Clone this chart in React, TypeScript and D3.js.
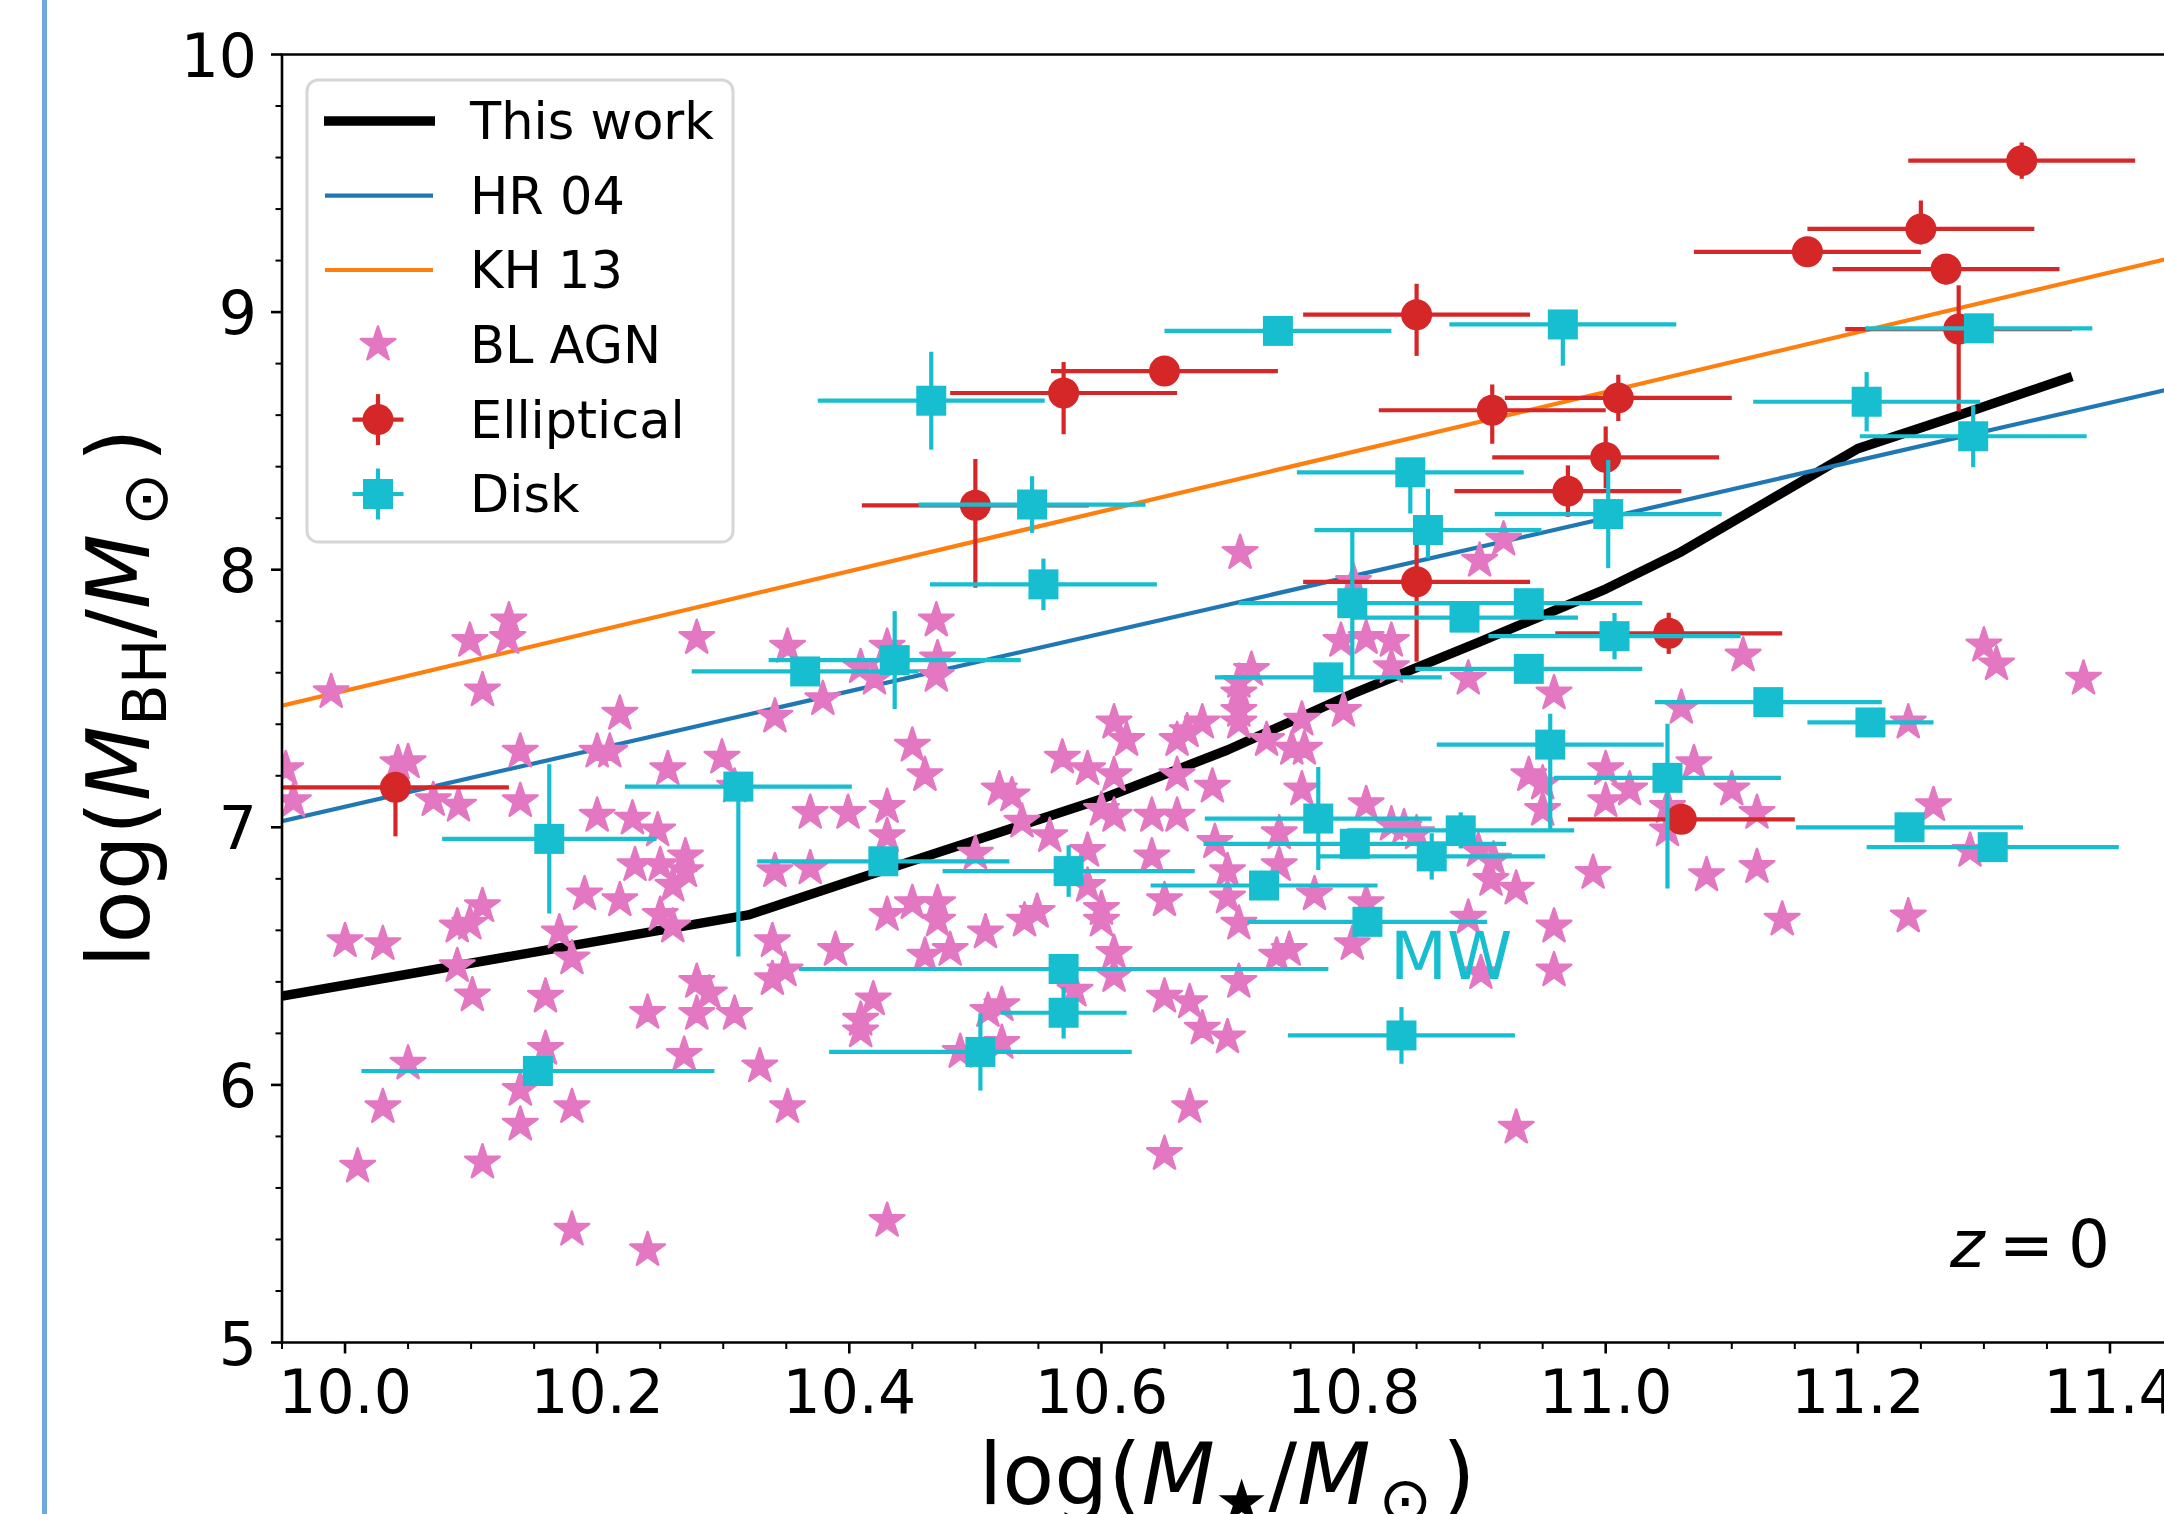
import React from 'react';
import * as d3 from 'd3';

// ---------------- data ----------------
const thisWorkX = [9.95, 10.32, 10.4, 10.5, 10.6, 10.7, 10.8, 10.9, 11.0, 11.06, 11.13, 11.2, 11.28, 11.37];
const thisWorkY = [6.345, 6.66, 6.79, 6.95, 7.11, 7.3, 7.52, 7.72, 7.925, 8.07, 8.27, 8.47, 8.6, 8.75];

const hr04X = [9.95, 11.45];
const hr04Y = [7.024, 8.704];
const kh13X = [9.95, 11.45];
const kh13Y = [7.472, 9.212];

const agnStars: [number, number][] = [
  [9.953, 7.226], [9.959, 7.102], [9.989, 7.525], [10.0, 6.558], [10.03, 6.547], [10.042, 7.249], [10.05, 7.253],
  [10.05, 6.083], [10.01, 5.683], [10.03, 5.914], [10.07, 7.106], [10.09, 7.084], [10.099, 7.724], [10.13, 7.803],
  [10.129, 7.735], [10.109, 7.532], [10.089, 6.615], [10.099, 6.626], [10.109, 6.694], [10.089, 6.461], [10.101, 6.348],
  [10.109, 5.699], [10.139, 7.294], [10.139, 7.102], [10.139, 5.846], [10.139, 5.981], [10.159, 6.343], [10.159, 6.14],
  [10.17, 6.592], [10.18, 6.491], [10.18, 5.914], [10.18, 5.438], [10.19, 6.74], [10.2, 7.045], [10.2, 7.294],
  [10.21, 7.294], [10.218, 7.441], [10.218, 6.717], [10.228, 7.034], [10.23, 6.853], [10.24, 6.28], [10.24, 5.359],
  [10.248, 6.988], [10.25, 6.853], [10.25, 6.66], [10.256, 7.226], [10.26, 6.774], [10.26, 6.615], [10.27, 6.887],
  [10.27, 6.83], [10.269, 6.117], [10.279, 7.735], [10.279, 6.4], [10.279, 6.276], [10.289, 6.355], [10.299, 7.271],
  [10.309, 6.276], [10.309, 7.158], [10.329, 6.072], [10.341, 7.43], [10.341, 6.83], [10.339, 6.558], [10.339, 6.411],
  [10.349, 6.445], [10.351, 5.914], [10.351, 7.701],
  [10.469, 7.803], [10.47, 7.656], [10.469, 7.588], [10.43, 7.701], [10.409, 7.622], [10.42, 7.577], [10.379, 7.498],
  [10.45, 7.317], [10.46, 7.203], [10.369, 7.056], [10.399, 7.056], [10.43, 7.079], [10.43, 6.966], [10.369, 6.841],
  [10.43, 6.66], [10.45, 6.706], [10.47, 6.706], [10.47, 6.638], [10.46, 6.502], [10.48, 6.524], [10.389, 6.524],
  [10.419, 6.332], [10.409, 6.253], [10.409, 6.208], [10.43, 5.472], [10.5, 6.898], [10.508, 6.592], [10.539, 6.638],
  [10.549, 6.672], [10.51, 6.287], [10.521, 6.31], [10.521, 6.163], [10.488, 6.128], [10.519, 7.147], [10.529, 7.124],
  [10.537, 7.022], [10.559, 6.966], [10.569, 7.271], [10.589, 7.226], [10.6, 7.068], [10.589, 6.909], [10.589, 6.773],
  [10.6, 6.683], [10.6, 6.638], [10.61, 7.407], [10.62, 7.339], [10.61, 7.203], [10.61, 7.045], [10.61, 6.513],
  [10.61, 6.423], [10.579, 6.366], [10.66, 7.339], [10.668, 7.373], [10.68, 7.407], [10.66, 7.203], [10.64, 7.045],
  [10.66, 7.045], [10.64, 6.887], [10.65, 6.717], [10.65, 6.343], [10.67, 6.321], [10.68, 6.219], [10.67, 5.914],
  [10.65, 5.732], [10.7, 6.185], [10.709, 6.4], [10.688, 7.158], [10.69, 6.943], [10.7, 6.83], [10.7, 6.728],
  [10.709, 6.626], [10.709, 7.565], [10.709, 7.52], [10.709, 7.452], [10.709, 7.407], [10.719, 7.611], [10.731, 7.339],
  [10.741, 6.977], [10.741, 6.853], [10.739, 6.502], [10.749, 6.524], [10.751, 7.305], [10.761, 7.305], [10.759, 7.147],
  [10.759, 7.418], [10.769, 6.74], [10.792, 7.452], [10.79, 7.724], [10.81, 7.735], [10.83, 7.724], [10.83, 7.622],
  [10.81, 7.09], [10.81, 6.706], [10.799, 6.547], [10.83, 7.011], [10.84, 7.0], [10.85, 6.977], [10.891, 7.577],
  [10.891, 6.649], [10.901, 6.434], [10.899, 6.909], [10.911, 6.875], [10.909, 6.796], [10.929, 6.762], [10.929, 5.834],
  [10.939, 7.203], [10.95, 7.17], [10.95, 7.068], [10.959, 7.52], [10.959, 6.615], [10.959, 6.445],
  [11.109, 7.667], [11.06, 7.464], [11.07, 7.249], [11.0, 7.226], [11.019, 7.147], [11.0, 7.102], [11.1, 7.147],
  [11.049, 7.079], [11.049, 6.988], [11.12, 7.056], [10.99, 6.823], [11.08, 6.814], [11.12, 6.846], [11.14, 6.642],
  [11.3, 7.706], [11.31, 7.633], [11.379, 7.577], [11.24, 7.407], [11.26, 7.086], [11.289, 6.909], [11.24, 6.654],
  [10.71, 8.065], [10.9, 8.035], [10.919, 8.117], [10.8, 7.953],
];

const ellX = [10.04, 10.5, 10.57, 10.65, 10.85, 10.85, 10.91, 10.97, 11.0, 11.01, 11.05, 11.06, 11.16, 11.25, 11.27, 11.28, 11.33];
const ellY = [7.155, 8.25, 8.686, 8.771, 8.99, 7.953, 8.619, 8.305, 8.436, 8.667, 7.753, 7.031, 9.234, 9.323, 9.167, 8.934, 9.588];
const ellXerr = [0.09, 0.09, 0.09, 0.09, 0.09, 0.09, 0.09, 0.09, 0.09, 0.09, 0.09, 0.09, 0.09, 0.09, 0.09, 0.09, 0.09];
const ellYlo = [0.19, 0.32, 0.16, 0.03, 0.16, 0.31, 0.13, 0.1, 0.12, 0.09, 0.08, 0.03, 0.03, 0.06, 0.06, 0.32, 0.07];
const ellYhi = [0.05, 0.18, 0.12, 0.03, 0.12, 0.18, 0.1, 0.1, 0.12, 0.09, 0.08, 0.03, 0.03, 0.11, 0.03, 0.17, 0.07];

const diskX = [10.153, 10.162, 10.312, 10.365, 10.427, 10.436, 10.465, 10.504, 10.545, 10.554, 10.57, 10.574, 10.57, 10.729,
  10.74, 10.772, 10.78, 10.801, 10.799, 10.811, 10.838, 10.845, 10.859, 10.862, 10.885, 10.888, 10.939, 10.939, 10.956,
  10.966, 11.002, 11.007, 11.049, 11.129, 11.207, 11.21, 11.241, 11.2915, 11.296, 11.307];
const diskY = [6.054, 6.955, 7.158, 7.605, 6.868, 7.649, 8.656, 6.128, 8.253, 7.943, 6.28, 6.83, 6.45, 6.774,
  8.927, 7.034, 7.582, 6.936, 7.87, 6.633, 6.192, 8.378, 8.154, 6.887, 6.988, 7.814, 7.615, 7.87, 7.321,
  8.952, 8.216, 7.742, 7.192, 7.486, 8.652, 7.407, 7.0, 8.518, 8.937, 6.923];
const diskXerr = [0.14, 0.085, 0.09, 0.09, 0.1, 0.1, 0.09, 0.12, 0.09, 0.09, 0.05, 0.1, 0.21, 0.09,
  0.09, 0.09, 0.09, 0.12, 0.09, 0.095, 0.09, 0.09, 0.09, 0.09, 0.09, 0.09, 0.09, 0.09, 0.09,
  0.09, 0.09, 0.1, 0.09, 0.09, 0.09, 0.05, 0.09, 0.09, 0.09, 0.1];
const diskYlo = [0.03, 0.29, 0.66, 0.03, 0.03, 0.19, 0.19, 0.15, 0.11, 0.1, 0.1, 0.1, 0.03, 0.03,
  0.03, 0.2, 0.03, 0.03, 0.29, 0.03, 0.11, 0.16, 0.11, 0.09, 0.07, 0.05, 0.03, 0.03, 0.33,
  0.16, 0.21, 0.09, 0.43, 0.03, 0.115, 0.03, 0.03, 0.12, 0.03, 0.03];
const diskYhi = [0.03, 0.29, 0.05, 0.03, 0.03, 0.19, 0.19, 0.15, 0.11, 0.1, 0.1, 0.1, 0.03, 0.03,
  0.03, 0.2, 0.03, 0.03, 0.29, 0.03, 0.11, 0.03, 0.16, 0.09, 0.07, 0.05, 0.03, 0.03, 0.12,
  0.03, 0.21, 0.09, 0.21, 0.03, 0.115, 0.03, 0.03, 0.12, 0.03, 0.03];

const xMajorTicks = [10.0, 10.2, 10.4, 10.6, 10.8, 11.0, 11.2, 11.4];
const xTickLabels = ['10.0', '10.2', '10.4', '10.6', '10.8', '11.0', '11.2', '11.4'];
const yMajorTicks = [5, 6, 7, 8, 9, 10];
const yTickLabels = ['5', '6', '7', '8', '9', '10'];

const legendLabels = ['This work', 'HR 04', 'KH 13', 'BL AGN', 'Elliptical', 'Disk'];

// ---------------- styles ----------------
const W = 2164;
const H = 1514;
const PL = 282, PR = 2173, PT = 54.5, PB = 1342.5;
const FONT = 'DejaVu Sans';
const C_BLUE = '#1f77b4', C_ORANGE = '#ff7f0e', C_PINK = '#e377c2', C_RED = '#d62728', C_CYAN = '#17becf';

export default function App() {
  const x = d3.scaleLinear().domain([9.95, 11.45]).range([PL, PR]);
  const y = d3.scaleLinear().domain([5, 10]).range([PB, PT]);

  const line = d3.line<[number, number]>().x(d => x(d[0])).y(d => y(d[1]));
  const twPts = thisWorkX.map((v, i) => [v, thisWorkY[i]] as [number, number]);
  const hrPts = hr04X.map((v, i) => [v, hr04Y[i]] as [number, number]);
  const khPts = kh13X.map((v, i) => [v, kh13Y[i]] as [number, number]);

  const starPath = d3.symbol().type(d3.symbolStar).size(370)()!;
  const squarePath = d3.symbol().type(d3.symbolSquare).size(900)()!;

  const xMinor = d3.range(0, 31).map(i => 9.95 + i * 0.05).filter(v => v < 11.46 && !xMajorTicks.some(t => Math.abs(t - v) < 1e-6));
  const yMinor = d3.range(0, 26).map(i => 5 + i * 0.2).filter(v => !yMajorTicks.some(t => Math.abs(t - v) < 1e-6));

  const errStroke = 4.2;

  const legendRows = [121, 195.6, 270, 344.6, 419.6, 494];
  const lgX = 378;

  return (
    <div style={{ position: 'absolute', left: 0, top: 0, width: W, height: H, background: '#fff' }}>
      <svg width={W} height={H} style={{ display: 'block' }} fontFamily={FONT}>
        <rect x={0} y={0} width={W} height={H} fill="#fff" />
        {/* blue vertical frame line */}
        <line x1={44.5} x2={44.5} y1={0} y2={H} stroke="#6fa8dc" strokeWidth={5} />
        <defs>
          <clipPath id="plotclip">
            <rect x={PL} y={PT} width={PR - PL} height={PB - PT} />
          </clipPath>
        </defs>
        <g clipPath="url(#plotclip)">
          <path d={line(twPts)!} fill="none" stroke="#000" strokeWidth={9.5} strokeLinejoin="round" />
          <path d={line(hrPts)!} fill="none" stroke={C_BLUE} strokeWidth={4.2} />
          <path d={line(khPts)!} fill="none" stroke={C_ORANGE} strokeWidth={4.2} />
          {agnStars.map((d, i) => (
            <path key={'s' + i} d={starPath} transform={`translate(${x(d[0])},${y(d[1])})`} fill={C_PINK}
              stroke={C_PINK} strokeWidth={2.5} strokeLinejoin="round" />
          ))}
          {ellX.map((v, i) => (
            <g key={'eb' + i} stroke={C_RED} strokeWidth={errStroke}>
              <line x1={x(v - ellXerr[i])} x2={x(v + ellXerr[i])} y1={y(ellY[i])} y2={y(ellY[i])} />
              <line x1={x(v)} x2={x(v)} y1={y(ellY[i] - ellYlo[i])} y2={y(ellY[i] + ellYhi[i])} />
            </g>
          ))}
          {ellX.map((v, i) => (
            <circle key={'ec' + i} cx={x(v)} cy={y(ellY[i])} r={15.5} fill={C_RED} />
          ))}
          {diskX.map((v, i) => (
            <g key={'db' + i} stroke={C_CYAN} strokeWidth={errStroke}>
              <line x1={x(v - diskXerr[i])} x2={x(v + diskXerr[i])} y1={y(diskY[i])} y2={y(diskY[i])} />
              <line x1={x(v)} x2={x(v)} y1={y(diskY[i] - diskYlo[i])} y2={y(diskY[i] + diskYhi[i])} />
            </g>
          ))}
          {diskX.map((v, i) => (
            <path key={'ds' + i} d={squarePath} transform={`translate(${x(v)},${y(diskY[i])})`} fill={C_CYAN} />
          ))}
        </g>

        {/* spines */}
        <line x1={PL} x2={PL} y1={PT} y2={PB} stroke="#000" strokeWidth={2.6} />
        <line x1={PL - 1.3} x2={PR} y1={PB} y2={PB} stroke="#000" strokeWidth={2.6} />
        <line x1={PL - 1.3} x2={PR} y1={PT} y2={PT} stroke="#000" strokeWidth={2.6} />

        {/* x ticks */}
        {xMajorTicks.map((t, i) => (
          <g key={'xt' + i}>
            <line x1={x(t)} x2={x(t)} y1={PB} y2={PB + 11} stroke="#000" strokeWidth={2.6} />
            <text x={x(t)} y={1413} fontSize={60} textAnchor="middle" fill="#000">{xTickLabels[i]}</text>
          </g>
        ))}
        {xMinor.map((t, i) => (
          <line key={'xm' + i} x1={x(t)} x2={x(t)} y1={PB} y2={PB + 6.5} stroke="#000" strokeWidth={2} />
        ))}
        {/* y ticks */}
        {yMajorTicks.map((t, i) => (
          <g key={'yt' + i}>
            <line x1={PL} x2={PL - 11} y1={y(t)} y2={y(t)} stroke="#000" strokeWidth={2.6} />
            <text x={257} y={y(t) + 22} fontSize={60} textAnchor="end" fill="#000">{yTickLabels[i]}</text>
          </g>
        ))}
        {yMinor.map((t, i) => (
          <line key={'ym' + i} x1={PL} x2={PL - 6.5} y1={y(t)} y2={y(t)} stroke="#000" strokeWidth={2} />
        ))}

        {/* axis labels */}
        <text x={1227} y={1504} fontSize={85} textAnchor="middle" fill="#000">
          <tspan>log(</tspan>
          <tspan fontStyle="italic">M</tspan>
          <tspan fontSize={60} dy={18}>★</tspan>
          <tspan dy={-18}>/</tspan>
          <tspan fontStyle="italic">M</tspan>
          <tspan fontSize={64} dx={8} dy={18}>⊙</tspan>
          <tspan dx={10} dy={-18}>)</tspan>
        </text>
        <text transform={`translate(149,698) rotate(-90)`} fontSize={87} textAnchor="middle" fill="#000">
          <tspan>log(</tspan>
          <tspan fontStyle="italic">M</tspan>
          <tspan fontSize={61} dy={17}>BH</tspan>
          <tspan dy={-17}>/</tspan>
          <tspan fontStyle="italic">M</tspan>
          <tspan fontSize={64} dx={8} dy={18}>⊙</tspan>
          <tspan dx={10} dy={-18}>)</tspan>
        </text>

        {/* annotations */}
        <text x={1390} y={979} fontSize={66} fill={C_CYAN}>MW</text>
        <text x={2110} y={1267} fontSize={66} textAnchor="end" fill="#000">
          <tspan fontStyle="italic">z</tspan>
          <tspan dx={14}>=</tspan>
          <tspan dx={14}>0</tspan>
        </text>

        {/* legend */}
        <rect x={307} y={80} width={426} height={462} rx={11} ry={11} fill="#fff" fillOpacity={0.8} stroke="#d6d6d6" strokeWidth={3} />
        <line x1={324} x2={435} y1={legendRows[0]} y2={legendRows[0]} stroke="#000" strokeWidth={9.5} />
        <line x1={325} x2={433} y1={legendRows[1]} y2={legendRows[1]} stroke={C_BLUE} strokeWidth={4.2} />
        <line x1={325} x2={433} y1={legendRows[2]} y2={legendRows[2]} stroke={C_ORANGE} strokeWidth={4.2} />
        <path d={starPath} transform={`translate(${lgX},${legendRows[3]})`} fill={C_PINK} stroke={C_PINK} strokeWidth={2.5} strokeLinejoin="round" />
        <g stroke={C_RED} strokeWidth={errStroke}>
          <line x1={lgX - 25.5} x2={lgX + 25.5} y1={legendRows[4]} y2={legendRows[4]} />
          <line x1={lgX} x2={lgX} y1={legendRows[4] - 25.5} y2={legendRows[4] + 25.5} />
        </g>
        <circle cx={lgX} cy={legendRows[4]} r={15.5} fill={C_RED} />
        <g stroke={C_CYAN} strokeWidth={errStroke}>
          <line x1={lgX - 25.5} x2={lgX + 25.5} y1={legendRows[5]} y2={legendRows[5]} />
          <line x1={lgX} x2={lgX} y1={legendRows[5] - 25.5} y2={legendRows[5] + 25.5} />
        </g>
        <path d={squarePath} transform={`translate(${lgX},${legendRows[5]})`} fill={C_CYAN} />
        {legendLabels.map((l, i) => (
          <text key={'ll' + i} x={470} y={legendRows[i] + 18} fontSize={51} fill="#000">{l}</text>
        ))}
      </svg>
    </div>
  );
}
